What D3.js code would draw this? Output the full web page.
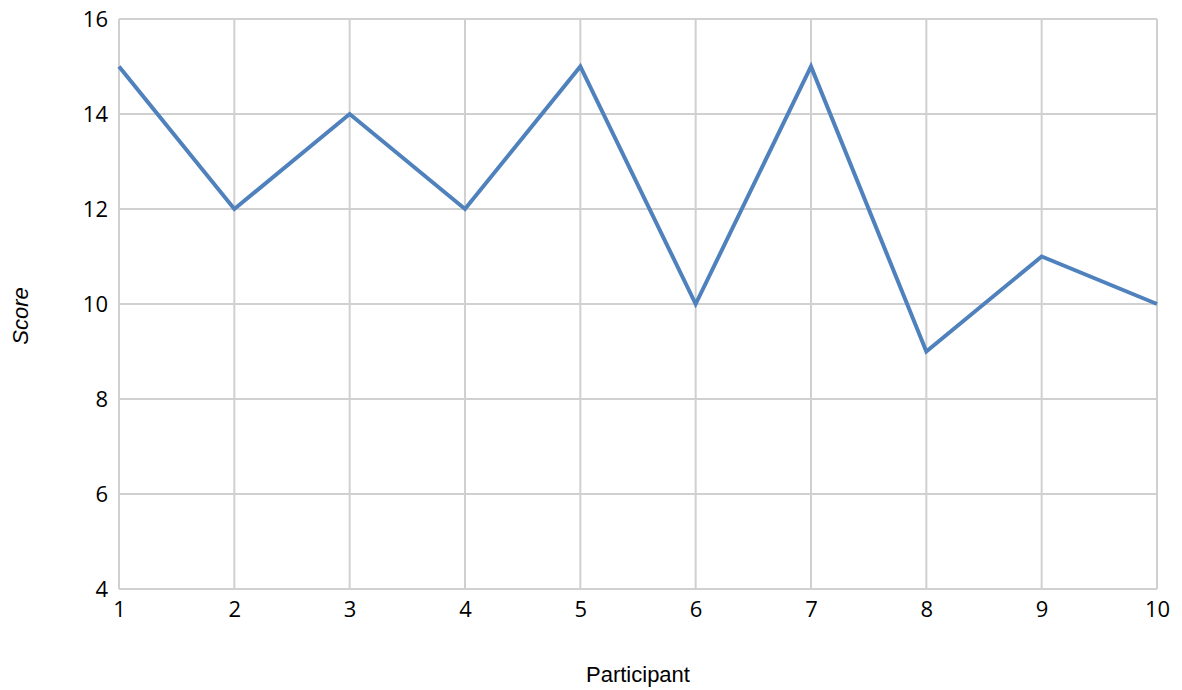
<!DOCTYPE html>
<html><head><meta charset="utf-8">
<script src="https://cdn.jsdelivr.net/npm/d3@7"></script>
<style>body{margin:0;background:#fff}</style>
</head><body>
<svg id="c" width="1182" height="690"></svg>
<script>
const participants = [1,2,3,4,5,6,7,8,9,10];
const scores = [15,12,14,12,15,10,15,9,11,10];
const yTicks = [4,6,8,10,12,14,16];

const svg = d3.select("#c");
const L=119, R=1157, T=19, B=589;
const x = d3.scaleLinear().domain([1,10]).range([L,R]);
const y = d3.scaleLinear().domain([4,16]).range([B,T]);
const tickFont = "'Open Sans', Lato, sans-serif";

svg.append("g").selectAll("line").data(yTicks).join("line")
  .attr("x1",L).attr("x2",R).attr("y1",d=>y(d)).attr("y2",d=>y(d))
  .attr("stroke","#d0d0d0").attr("stroke-width",2);
svg.append("g").selectAll("line").data(participants).join("line")
  .attr("x1",d=>x(d)).attr("x2",d=>x(d)).attr("y1",T).attr("y2",B)
  .attr("stroke","#d0d0d0").attr("stroke-width",2);

const yAxis = svg.append("g").attr("transform",`translate(${L},0)`)
  .call(d3.axisLeft(y).tickValues(yTicks).tickSize(0).tickPadding(11));
yAxis.select(".domain").remove();
yAxis.selectAll("text").style("font-size","22px").style("font-family",tickFont).attr("fill","#000");

const xAxis = svg.append("g").attr("transform",`translate(0,${B})`)
  .call(d3.axisBottom(x).tickValues(participants).tickSize(0).tickPadding(12));
xAxis.select(".domain").remove();
xAxis.selectAll("text").style("font-size","22px").style("font-family",tickFont).attr("fill","#000");

svg.append("path").datum(participants.map((p,i)=>[p,scores[i]]))
  .attr("d", d3.line().x(d=>x(d[0])).y(d=>y(d[1])))
  .attr("fill","none").attr("stroke","#4f81bd").attr("stroke-width",4)
  .attr("stroke-linejoin","miter");

svg.append("text").attr("x",638).attr("y",682).attr("text-anchor","middle")
  .style("font-family","'Liberation Sans', Arial, sans-serif").style("font-size","22px").text("Participant");
svg.append("text").attr("transform","translate(28,316) rotate(-90)").attr("text-anchor","middle")
  .style("font-family","'Liberation Sans', Arial, sans-serif").style("font-size","22px")
  .style("font-style","italic").text("Score");
</script>
</body></html>
